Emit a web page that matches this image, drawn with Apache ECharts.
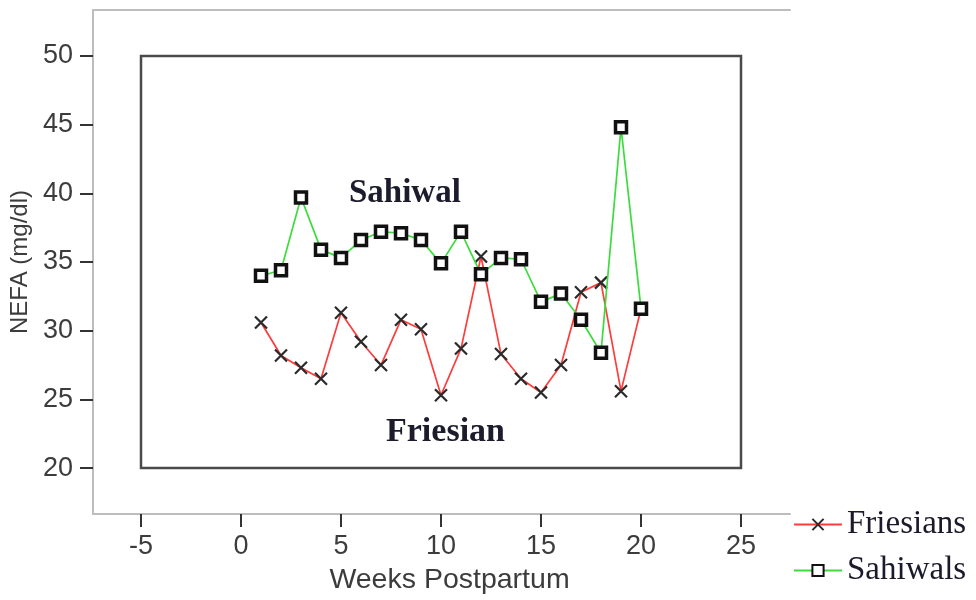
<!DOCTYPE html>
<html>
<head>
<meta charset="utf-8">
<script src="https://cdn.jsdelivr.net/npm/echarts@6/dist/echarts.min.js"></script>
<style>html,body{margin:0;padding:0;background:#fff}#c{width:976px;height:600px}</style>
</head>
<body>
<div id="c"></div>
<script>
var weeks = [1,2,3,4,5,6,7,8,9,10,11,12,13,14,15,16,17,18,19,20];
var friesians = [30.6,28.2,27.3,26.5,31.3,29.2,27.5,30.8,30.1,25.3,28.7,35.4,28.3,26.5,25.5,27.5,32.8,33.5,25.6,31.6];
var sahiwals = [34.0,34.4,39.7,35.9,35.3,36.6,37.2,37.1,36.6,34.9,37.2,34.1,35.3,35.2,32.1,32.7,30.8,28.4,44.8,31.6];
var xTicks = [-5,0,5,10,15,20,25];
var yTicks = [20,25,30,35,40,45,50];
var boxX = [-5,25];
var boxY = [20,50];

function pairs(xs, ys){ return xs.map(function(x,i){ return [x, ys[i]]; }); }

var chart = echarts.init(document.getElementById('c'), null, {renderer:'canvas'});
var tickFont = {fontFamily:'Liberation Sans, Arial, sans-serif', fontSize:27, color:'#3c3c3c'};
chart.setOption({
  animation:false,
  backgroundColor:'#fff',
  grid:{left:93, top:10, width:697, height:505, containLabel:false},
  xAxis:[{
    type:'value', min:-7.4, max:27.45, position:'bottom',
    splitLine:{show:false},
    axisLine:{show:true, onZero:false, lineStyle:{color:'#bdbdbd', width:2}},
    axisTick:{show:true, customValues:xTicks, length:13, lineStyle:{color:'#333', width:2}},
    axisLabel:Object.assign({customValues:xTicks, margin:19}, tickFont),
    name:'Weeks Postpartum', nameLocation:'middle', nameGap:52,
    nameTextStyle:{fontFamily:'Liberation Sans, Arial, sans-serif', fontSize:28.5, color:'#3c3c3c', padding:[0,0,0,16]}
  },{
    type:'value', min:-7.4, max:27.45, position:'top',
    splitLine:{show:false},
    axisLine:{show:true, onZero:false, lineStyle:{color:'#bdbdbd', width:2}},
    axisTick:{show:false}, axisLabel:{show:false}
  }],
  yAxis:{
    type:'value', min:16.66, max:53.34,
    splitLine:{show:false},
    axisLine:{show:true, onZero:false, lineStyle:{color:'#bdbdbd', width:2}},
    axisTick:{show:true, customValues:yTicks, length:13, lineStyle:{color:'#333', width:2}},
    axisLabel:Object.assign({customValues:yTicks, margin:20}, tickFont),
    name:'NEFA (mg/dl)', nameLocation:'middle', nameGap:60,
    nameTextStyle:{fontFamily:'Liberation Sans, Arial, sans-serif', fontSize:24, color:'#3c3c3c'}
  },
  legend:{
    orient:'vertical', left:788, top:503, itemGap:13, itemWidth:48, itemHeight:14,
    textStyle:{fontFamily:'Liberation Serif, Times New Roman, serif', fontSize:33, color:'#1a1a2a'},
    data:['Friesians','Sahiwals']
  },
  series:[{
    name:'Friesians', type:'line', data:pairs(weeks, friesians),
    symbol:'path://M0,0L10,10M10,0L0,10', symbolSize:12,
    lineStyle:{color:'#ff3b3b', width:1.7},
    itemStyle:{color:'#2a2a2a', borderColor:'#2a2a2a', borderWidth:2.2},
    z:3,
    markArea:{silent:true, itemStyle:{color:'rgba(0,0,0,0)', borderColor:'#4a4a4a', borderWidth:2.5},
      data:[[{coord:[boxX[0], boxY[0]]},{coord:[boxX[1], boxY[1]]}]]}
  },{
    name:'Sahiwals', type:'line', data:pairs(weeks, sahiwals),
    symbol:'rect', symbolSize:11,
    lineStyle:{color:'#3ddc3d', width:1.7},
    itemStyle:{color:'#ffffff', borderColor:'#111', borderWidth:3.5},
    z:4
  }],
  graphic:[
    {type:'text', left:349, top:177, style:{text:'Sahiwal', font:'bold 33px "Liberation Serif", "Times New Roman", serif', fill:'#1c1c2c'}},
    {type:'text', left:386, top:415, style:{text:'Friesian', font:'bold 34px "Liberation Serif", "Times New Roman", serif', fill:'#1c1c2c'}}
  ]
});
</script>
</body>
</html>
